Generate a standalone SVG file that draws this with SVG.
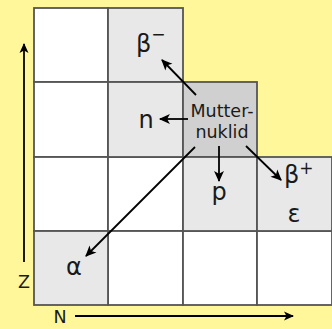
<svg xmlns="http://www.w3.org/2000/svg" width="332" height="329" viewBox="0 0 332 329">
<defs>
<style>
.w{fill:#ffffff;stroke:#555;stroke-width:1.8}
.g{fill:#e8e8e8;stroke:#555;stroke-width:1.8}
.m{fill:#d0d0d0;stroke:#555;stroke-width:1.8}
text{font-family:"DejaVu Sans",sans-serif;fill:#1a1a1a;text-anchor:middle}
.l{font-size:24px}
.st{text-anchor:start}
.s{font-size:17.5px}
.sup{font-size:17px}
.c line{stroke:#000;stroke-width:1.8;marker-end:url(#ah)}
</style>
<marker id="ah" viewBox="0 0 10 10" refX="9" refY="5" markerWidth="12" markerHeight="11" orient="auto" markerUnits="userSpaceOnUse">
<path d="M0,0.5 L10,5 L0,9.5 L2.5,5 z" fill="#000"/>
</marker>
<marker id="ah2" viewBox="0 0 10 10" refX="9" refY="5" markerWidth="13" markerHeight="10" orient="auto" markerUnits="userSpaceOnUse">
<path d="M0,0.5 L10,5 L0,9.5 L2.5,5 z" fill="#000"/>
</marker>
</defs>
<rect x="0" y="0" width="332" height="329" fill="#fff799"/>
<g id="grid">
<rect class="w" x="34" y="8" width="74" height="74"/>
<rect class="w" x="34" y="82" width="74" height="75"/>
<rect class="w" x="34" y="157" width="74" height="74"/>
<rect class="w" x="108" y="157" width="75" height="74"/>
<rect class="w" x="108" y="231" width="75" height="74"/>
<rect class="w" x="183" y="231" width="74" height="74"/>
<rect class="w" x="257" y="231" width="75" height="74"/>
</g>
<g id="beta-minus">
<rect class="g" x="108" y="8" width="75" height="74"/>
<text class="l st" x="136" y="52">β<tspan class="sup" dy="-12">−</tspan></text>
</g>
<g id="neutron">
<rect class="g" x="108" y="82" width="75" height="75"/>
<text class="l" x="146" y="128">n</text>
</g>
<g id="mutternuklid">
<rect class="m" x="183" y="82" width="74" height="75"/>
<text class="s" x="222" y="117">Mutter-</text>
<text class="s" x="222" y="138">nuklid</text>
</g>
<g id="proton">
<rect class="g" x="183" y="157" width="74" height="74"/>
<text class="l" x="219" y="200">p</text>
</g>
<g id="beta-plus">
<rect class="g" x="257" y="157" width="75" height="74"/>
<text class="l st" x="284" y="183">β<tspan class="sup" dy="-9">+</tspan></text>
<text class="l" x="294" y="222">ε</text>
</g>
<g id="alpha">
<rect class="g" x="34" y="231" width="74" height="74"/>
<text class="l" x="74" y="275">α</text>
</g>
<g id="axes">
<line x1="24" y1="262" x2="24" y2="44" stroke="#000" stroke-width="1.8" marker-end="url(#ah2)"/>
<text class="s" x="24" y="288">Z</text>
<line x1="75" y1="316" x2="293" y2="316" stroke="#000" stroke-width="1.8" marker-end="url(#ah2)"/>
<text class="s" x="60" y="323">N</text>
</g>
<g class="c" id="connectors">
<line x1="196" y1="95" x2="162" y2="60"/>
<line x1="188" y1="119" x2="160" y2="119"/>
<line x1="219" y1="146" x2="219" y2="181"/>
<line x1="246" y1="146" x2="281" y2="180"/>
<line x1="195" y1="147" x2="86" y2="256"/>
</g>
</svg>
